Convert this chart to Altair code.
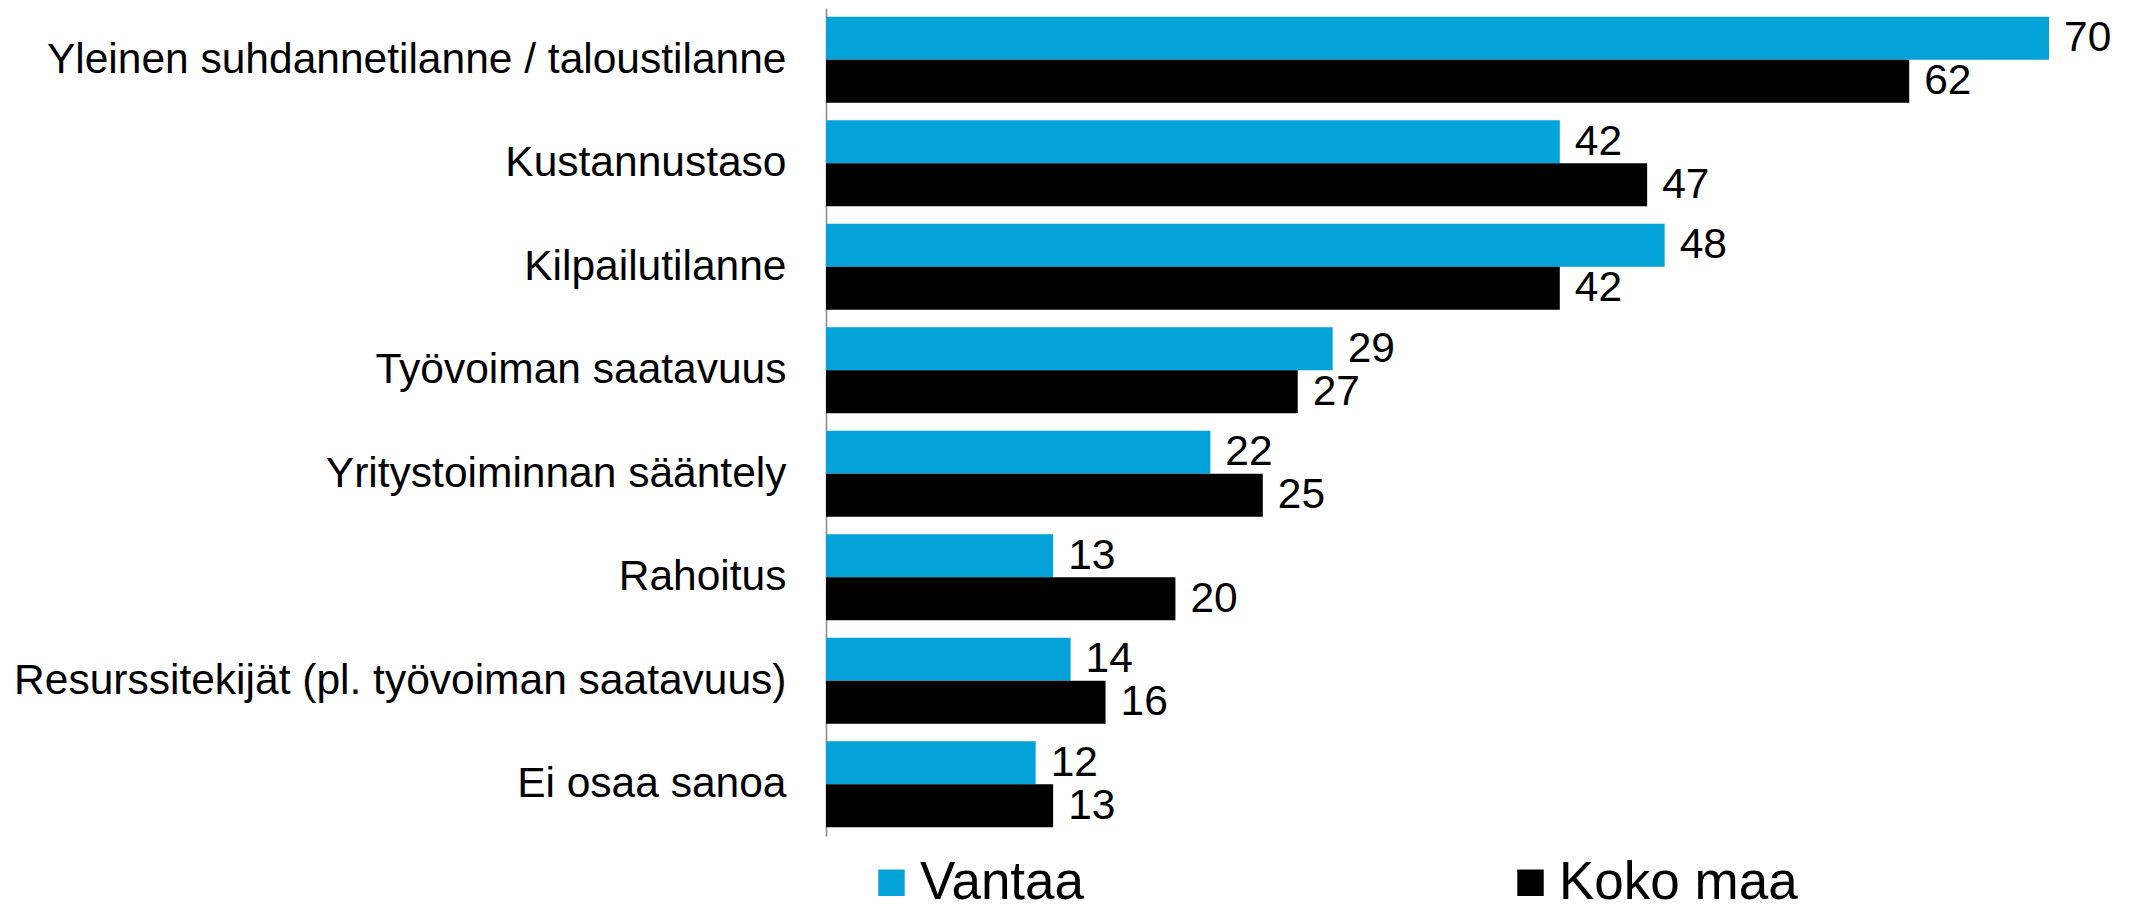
import altair as alt
import pandas as pd

categories = [
    "Yleinen suhdannetilanne / taloustilanne",
    "Kustannustaso",
    "Kilpailutilanne",
    "Työvoiman saatavuus",
    "Yritystoiminnan sääntely",
    "Rahoitus",
    "Resurssitekijät (pl. työvoiman saatavuus)",
    "Ei osaa sanoa",
]
series = ["Vantaa", "Koko maa"]
vantaa = [70, 42, 48, 29, 22, 13, 14, 12]
koko_maa = [62, 47, 42, 27, 25, 20, 16, 13]
colors = ["#03A3D9", "#000000"]

rows = []
for c, v in zip(categories, vantaa):
    rows.append({"cat": c, "series": "Vantaa", "value": v})
for c, v in zip(categories, koko_maa):
    rows.append({"cat": c, "series": "Koko maa", "value": v})
df = pd.DataFrame(rows)

FONT = "Liberation Sans"

base = alt.Chart(df).encode(
    y=alt.Y(
        "cat:N",
        sort=categories,
        title=None,
        scale=alt.Scale(paddingInner=0.17, paddingOuter=0.085),
        axis=alt.Axis(
            labelFontSize=42.5,
            labelFont=FONT,
            labelColor="#000000",
            labelPadding=40,
            labelLimit=0,
            ticks=False,
            grid=False,
            domainColor="#898989",
            domainWidth=1.5,
        ),
    ),
    yOffset=alt.YOffset(
        "series:N", sort=series, scale=alt.Scale(paddingInner=0, paddingOuter=0)
    ),
    x=alt.X("value:Q", scale=alt.Scale(domain=[0, 70], nice=False), axis=None),
)

bars = base.mark_bar().encode(
    color=alt.Color(
        "series:N",
        sort=series,
        scale=alt.Scale(domain=series, range=colors),
        legend=alt.Legend(
            title=None,
            orient="none",
            legendX=39,
            legendY=848,
            direction="horizontal",
            labelFontSize=53,
            labelFont=FONT,
            labelColor="#000000",
            labelLimit=0,
            symbolType="square",
            symbolSize=700,
            symbolStrokeWidth=0,
            labelOffset=2,
            columnPadding=419,
        ),
    )
)

text = base.mark_text(
    align="left", baseline="middle", dx=15, fontSize=42.5, font=FONT, color="#000000"
).encode(text="value:Q")

chart = (
    alt.layer(bars, text)
    .properties(
        width=1223,
        height=828,
        autosize=alt.AutoSizeParams(type="none"),
        padding={"left": 818, "top": 0, "right": 70, "bottom": 73},
    )
    .configure_view(stroke=None)
)

chart.save("out.html", embed_options={"renderer": "svg", "actions": False})
